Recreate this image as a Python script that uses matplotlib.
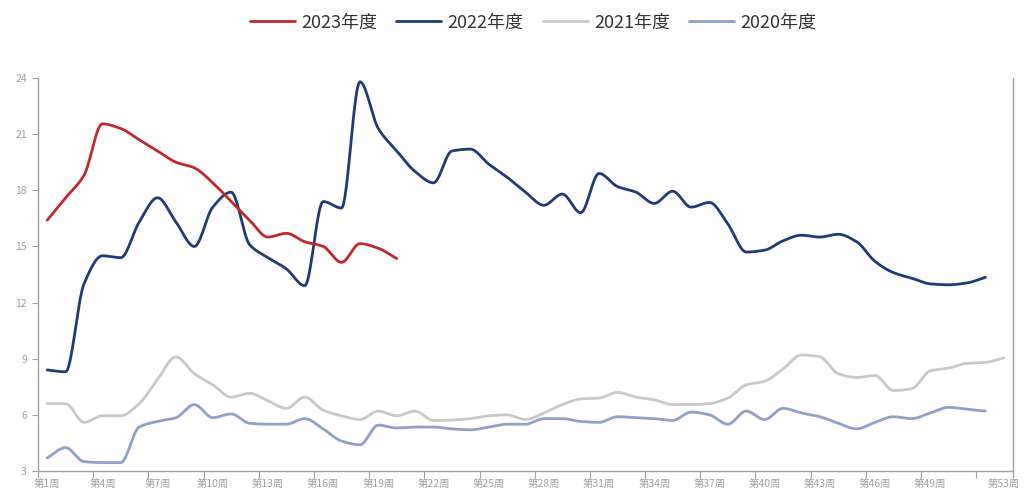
import matplotlib
matplotlib.use("Agg")
import matplotlib.pyplot as plt
import numpy as np

plt.rcParams['font.family'] = ['Noto Sans CJK SC', 'DejaVu Sans']

# weekly values per season
weeks_all = np.arange(1, 54)

y2023 = [16.4, 17.6, 18.8, 21.55, 21.3, 20.7, 20.1, 19.5, 19.2, 18.4,
         17.4, 16.4, 15.5, 15.7, 15.25, 15.0, 14.15, 15.15, 14.9, 14.35]

y2022 = [8.4, 8.3, 13.0, 14.5, 14.4, 16.3, 17.6, 16.3, 15.0, 17.1,
         17.9, 15.1, 14.4, 13.8, 12.9, 17.4, 17.05, 23.8, 21.3, 20.1,
         19.0, 18.4, 20.1, 20.2, 19.4, 18.7, 17.9, 17.2, 17.8, 16.8,
         18.9, 18.2, 17.9, 17.3, 17.95, 17.1, 17.35, 16.2, 14.7, 14.8,
         15.3, 15.6, 15.5, 15.65, 15.25, 14.2, 13.6, 13.3, 13.0, 12.95,
         13.05, 13.35]

y2021 = [6.6, 6.6, 5.6, 5.95, 5.95, 6.6, 7.9, 9.1, 8.2, 7.6,
         6.95, 7.15, 6.75, 6.35, 6.95, 6.25, 5.95, 5.75, 6.2, 5.95,
         6.2, 5.7, 5.72, 5.8, 5.95, 6.0, 5.75, 6.1, 6.55, 6.85,
         6.9, 7.2, 6.95, 6.8, 6.55, 6.55, 6.6, 6.9, 7.6, 7.8,
         8.45, 9.2, 9.1, 8.2, 8.0, 8.1, 7.3, 7.4, 8.35, 8.5,
         8.75, 8.8, 9.05]

y2020 = [3.7, 4.25, 3.5, 3.45, 3.45, 5.35, 5.65, 5.85, 6.55, 5.85,
         6.05, 5.55, 5.5, 5.5, 5.8, 5.25, 4.6, 4.4, 5.45, 5.3,
         5.35, 5.35, 5.25, 5.2, 5.35, 5.5, 5.5, 5.8, 5.8, 5.65,
         5.6, 5.9, 5.85, 5.8, 5.7, 6.15, 6.0, 5.5, 6.2, 5.75,
         6.35, 6.1, 5.9, 5.55, 5.25, 5.6, 5.9, 5.8, 6.1, 6.4,
         6.3, 6.2]

series = [
    ("2023年度", y2023, "#c0282e"),
    ("2022年度", y2022, "#1f3b73"),
    ("2021年度", y2021, "#c8c8c8"),
    ("2020年度", y2020, "#8fa1c7"),
]

label_weeks = [1, 4, 7, 10, 13, 16, 19, 22, 25, 28, 31, 34, 37, 40, 43, 46, 49, 53]
tick_weeks = [1, 4, 7, 10, 13, 16, 19, 22, 25, 28, 31, 34, 37, 40, 43, 46, 49, 52]


def smooth(x, y, n=16):
    # monotone cubic (Fritsch-Carlson) so peaks don't overshoot
    x = np.asarray(x, float)
    y = np.asarray(y, float)
    h = np.diff(x)
    d = np.diff(y) / h
    m = np.zeros_like(y)
    m[0], m[-1] = d[0], d[-1]
    for i in range(1, len(y) - 1):
        if d[i - 1] * d[i] > 0:
            m[i] = 2.0 / (1.0 / d[i - 1] + 1.0 / d[i])
    t = np.linspace(0, 1, n, endpoint=False)
    xs, ys = [], []
    for i in range(len(h)):
        h00 = 2 * t ** 3 - 3 * t ** 2 + 1
        h10 = t ** 3 - 2 * t ** 2 + t
        h01 = -2 * t ** 3 + 3 * t ** 2
        h11 = t ** 3 - t ** 2
        xs.append(x[i] + t * h[i])
        ys.append(h00 * y[i] + h10 * h[i] * m[i] + h01 * y[i + 1] + h11 * h[i] * m[i + 1])
    xs.append([x[-1]])
    ys.append([y[-1]])
    return np.concatenate(xs), np.concatenate(ys)


fig = plt.figure(figsize=(10.29, 4.98), dpi=100)
ax = fig.add_axes([38 / 1029, 1 - 471 / 498, (1013 - 38) / 1029, (471 - 78) / 498])

handles = []
for name, vals, color in series:
    xs, ys = smooth(weeks_all[:len(vals)], vals)
    h, = ax.plot(xs, ys, color=color, lw=2.0, label=name, solid_capstyle='round')
    handles.append(h)

# draw order: older seasons underneath
for h, z in zip(handles, [5, 4, 3, 3.5]):
    h.set_zorder(z)

ax.set_xlim(0.5, 53.5)
ax.set_ylim(3, 24)
ax.set_yticks(range(3, 25, 3))

axis_col = "#a0a0a0"
for side in ("left", "bottom", "right"):
    ax.spines[side].set_color(axis_col)
    ax.spines[side].set_linewidth(1.0)
ax.spines["top"].set_visible(False)

ax.set_xticks([w - 0.5 for w in tick_weeks] + [53.5])
ax.set_xticklabels([])
ax.set_xticks(label_weeks, minor=True)
ax.set_xticklabels([f"第{w}周" for w in label_weeks], minor=True)
ax.tick_params(axis="x", which="major", length=5, color=axis_col, direction="out")
ax.tick_params(axis="x", which="minor", length=0, pad=6, labelsize=7.5, labelcolor="#a0a0a0")
ax.tick_params(axis="y", length=4, color=axis_col, labelsize=7.5, labelcolor="#a0a0a0", pad=4)

fig.legend(handles=handles, loc="upper center", bbox_to_anchor=(0.518, 1.005),
           ncol=4, frameon=False, fontsize=13, handlelength=2.5,
           handletextpad=0.35, columnspacing=1.05, labelcolor="#333333")

fig.savefig("out.png", dpi=100)
